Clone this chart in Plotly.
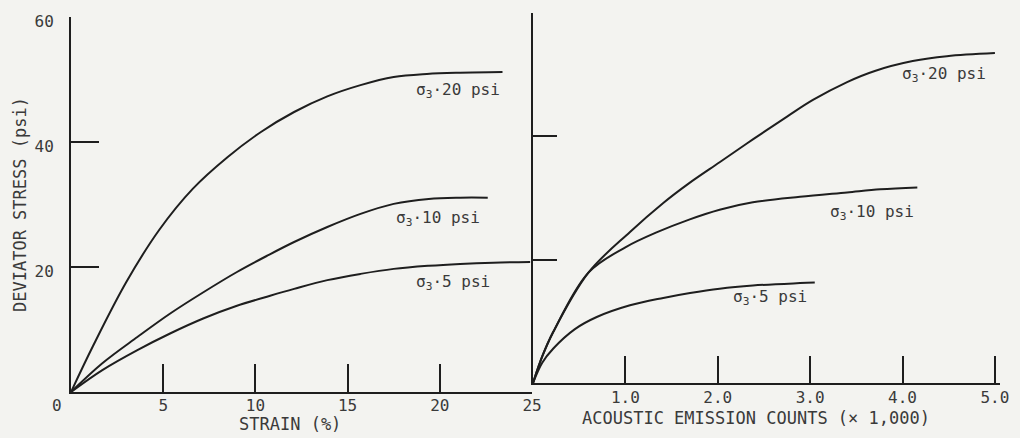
import plotly.graph_objects as go

# Deviator stress vs. axial strain (left panel)
strain_20 = [0, 1.2, 3.0, 4.8, 6.6, 8.5, 10.3, 12.1, 13.9, 15.7, 17.5, 19.3, 21.1, 23.4]
stress_20 = [0, 7.4, 17.6, 26.0, 32.5, 37.6, 41.6, 44.8, 47.3, 49.1, 50.4, 50.9, 51.1, 51.2]

strain_10 = [0, 1.7, 3.6, 5.4, 7.2, 9.0, 10.7, 12.1, 13.9, 15.7, 17.5, 19.4, 21.1, 22.6]
stress_10 = [0, 4.6, 8.8, 12.6, 16.0, 19.2, 21.9, 24.0, 26.4, 28.5, 30.1, 30.9, 31.1, 31.1]

strain_5 = [0, 1.7, 3.6, 5.4, 7.2, 9.0, 10.8, 12.1, 13.9, 15.7, 17.5, 19.4, 21.1, 22.9, 24.9]
stress_5 = [0, 3.5, 6.7, 9.4, 11.8, 13.8, 15.4, 16.5, 17.9, 18.9, 19.7, 20.2, 20.5, 20.7, 20.8]

# Deviator stress vs. acoustic emission counts, thousands (right panel)
counts_20 = [0, 0.1, 0.22, 0.6, 1.05, 1.41, 1.68, 2.02, 2.38, 2.75, 3.03, 3.40, 3.70, 4.11, 4.48, 5.0]
ae_stress_20 = [0, 4.3, 8.3, 17.9, 24.5, 29.2, 32.3, 35.8, 39.5, 43.2, 45.9, 48.8, 50.6, 52.2, 53.0, 53.5]

counts_10 = [0, 0.1, 0.22, 0.6, 1.0, 1.35, 1.69, 2.02, 2.38, 2.89, 3.40, 3.76, 4.16]
ae_stress_10 = [0, 4.3, 8.3, 17.9, 22.0, 24.5, 26.5, 28.1, 29.3, 30.2, 30.9, 31.4, 31.7]

counts_5 = [0, 0.1, 0.22, 0.45, 0.69, 1.05, 1.41, 1.70, 2.02, 2.38, 2.89, 3.05]
ae_stress_5 = [0, 3.3, 5.6, 8.7, 10.7, 12.6, 13.8, 14.6, 15.3, 15.8, 16.2, 16.3]

# Axis ticks
strain_ticks = [5, 10, 15, 20, 25]
count_ticks = [1, 2, 3, 4, 5]
count_tick_text = ["1.0", "2.0", "3.0", "4.0", "5.0"]
stress_ticks = [20, 40, 60]

# Curve labels: (text, x, y, x-axis, y-axis)
curve_labels = [
    ("σ<sub>3</sub>·20 psi", 21.0, 48.3, "x", "y"),
    ("σ<sub>3</sub>·10 psi", 19.9, 27.8, "x", "y"),
    ("σ<sub>3</sub>·5 psi", 20.7, 17.6, "x", "y"),
    ("σ<sub>3</sub>·20 psi", 4.45, 50.1, "x2", "y2"),
    ("σ<sub>3</sub>·10 psi", 3.67, 27.6, "x2", "y2"),
    ("σ<sub>3</sub>·5 psi", 2.56, 13.8, "x2", "y2"),
]

W, H = 1020, 438
INK = "#1e1e1e"
TEXT = "#3a3a3a"
PAPER = "#f3f3f0"
FONT = "DejaVu Sans Mono"

fig = go.Figure()
line = dict(color=INK, width=2, shape="spline", smoothing=1.0)
for xs, ys in [(strain_20, stress_20), (strain_10, stress_10), (strain_5, stress_5)]:
    fig.add_trace(go.Scatter(x=xs, y=ys, mode="lines", line=line, xaxis="x", yaxis="y",
                             showlegend=False, hoverinfo="skip"))
for xs, ys in [(counts_20, ae_stress_20), (counts_10, ae_stress_10), (counts_5, ae_stress_5)]:
    fig.add_trace(go.Scatter(x=xs, y=ys, mode="lines", line=line, xaxis="x2", yaxis="y2",
                             showlegend=False, hoverinfo="skip"))

axis_common = dict(showline=True, linecolor=INK, linewidth=2, showgrid=False, zeroline=False,
                   ticks="inside", tickcolor=INK, tickwidth=2, automargin=False,
                   tickfont=dict(family=FONT, size=16, color=TEXT))

fig.update_layout(
    width=W, height=H,
    margin=dict(l=0, r=0, t=0, b=0, autoexpand=False),
    paper_bgcolor=PAPER, plot_bgcolor=PAPER,
    xaxis=dict(axis_common, domain=[71 / W, 532 / W], range=[0, 25], anchor="y",
               tickvals=strain_ticks, ticklen=28, ticklabelstandoff=-2),
    yaxis=dict(axis_common, domain=[46 / H, 421 / H], range=[0, 60], anchor="x",
               tickvals=stress_ticks, ticklen=28, ticklabelstandoff=12, ticklabelshift=4),
    xaxis2=dict(axis_common, domain=[533 / W, 1000 / W], range=[0, 5.055], anchor="y2",
                tickvals=count_ticks, ticktext=count_tick_text, ticklen=27, ticklabelstandoff=-1),
    yaxis2=dict(axis_common, domain=[55 / H, 425 / H], range=[0, 60], anchor="x2",
                tickvals=stress_ticks, ticklen=24, showticklabels=False),
)

for text, x, y, xr, yr in curve_labels:
    fig.add_annotation(text=text, x=x, y=y, xref=xr, yref=yr, showarrow=False,
                       xanchor="center", yanchor="middle",
                       font=dict(family=FONT, size=16, color=TEXT))

# Origin label and axis titles (positioned in figure pixels)
page_text = [
    ("0", 57, 405, 0, 16),
    ("DEVIATOR STRESS (psi)", 20, 205, -90, 17),
    ("STRAIN (%)", 290, 424, 0, 17),
    ("ACOUSTIC EMISSION COUNTS (× 1,000)", 756, 418, 0, 17),
]
for text, px, py, angle, size in page_text:
    fig.add_annotation(text=text, x=px / W, y=1 - py / H, xref="paper", yref="paper",
                       xanchor="center", yanchor="middle", textangle=angle, showarrow=False,
                       font=dict(family=FONT, size=size, color=TEXT))

fig.write_html("out.html")
